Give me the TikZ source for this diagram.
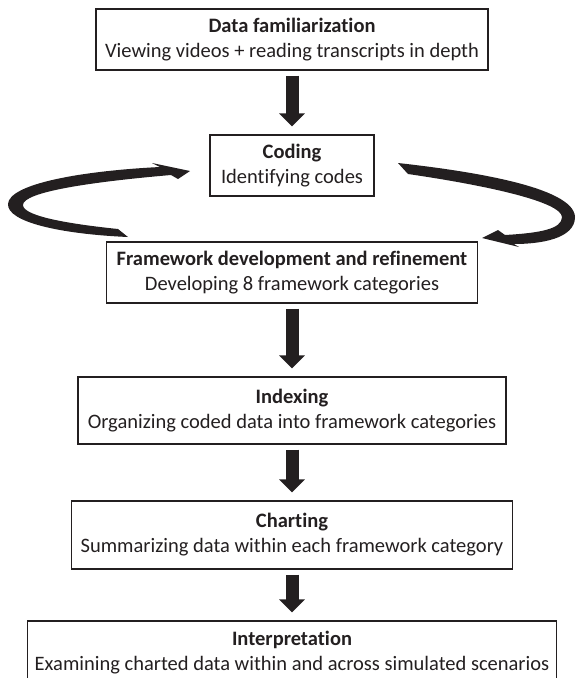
\documentclass[tikz,border=0pt]{standalone}
\usepackage{fontspec}
\setmainfont{Carlito}[RawFeature={-liga;-dlig;-clig;-calt}]
\usetikzlibrary{arrows.meta}
\definecolor{ink}{RGB}{35,31,32}
\tikzset{every path/.style={line width=1.3pt}}
\tikzset{stage/.style={draw=ink, align=center, inner sep=0pt, text=ink, font=\fontsize{20.5}{25}\selectfont}}
\tikzset{down/.style={draw=ink, line width=13pt, -{Triangle[width=25pt,length=13pt]}, shorten <=5pt, shorten >=8pt}}

\begin{document}
\begin{tikzpicture}[x=1pt, y=-1pt]
\useasboundingbox (0,0) rectangle (576,678);
% stages, top to bottom
\node[stage, minimum width=392pt, minimum height=61pt] (data) at (292,39.5) {\textbf{Data familiarization}\\Viewing videos + reading transcripts in depth};
\node[stage, minimum width=164pt, minimum height=61pt] (coding) at (292,165.5) {\textbf{Coding}\\Identifying codes};
\node[stage, minimum width=371pt, minimum height=61pt] (frame) at (292,272.5) {\textbf{Framework development and refinement}\\Developing 8 framework categories};
\node[stage, minimum width=428pt, minimum height=67pt] (index) at (292,410.5) {\textbf{Indexing}\\Organizing coded data into framework categories};
\node[stage, minimum width=441pt, minimum height=68pt] (chart) at (292,535) {\textbf{Charting}\\Summarizing data within each framework category};
\node[stage, minimum width=529pt, minimum height=64pt] (interp) at (292,653) {\textbf{Interpretation}\\Examining charted data within and across simulated scenarios};

% fat arrows between stages
\draw[down] (data.south) -- (coding.north);
\draw[down] (frame.south) -- (index.north);
\draw[down] (index.south) -- (chart.north);
\draw[down] (chart.south) -- (interp.north);

% loop on the left: framework back up to coding
\coordinate (ltail) at (128,237);
\coordinate (ltip) at (190,171);
\fill[ink] (ltail) .. controls (60,234) and (7,222) .. (8,204)
  .. controls (9,184) and (80,171) .. (160,167) -- (152,163) -- (ltip) -- (178,179) -- (171,175)
  .. controls (90,182) and (23,192) .. (23,205) .. controls (23,215) and (60,223) .. (118,229) -- cycle;

% loop on the right: coding down to framework
\coordinate (rtail) at (398,163);
\coordinate (rtip) at (482,238);
\fill[ink] (rtail) .. controls (470,171) and (574,187) .. (575,217)
  .. controls (575,239) and (540,244) .. (514,244) -- (519,247) -- (rtip) -- (498,230) -- (505,235)
  .. controls (540,233) and (562,229) .. (562,217) .. controls (561,202) and (490,186) .. (408,174) -- cycle;
\end{tikzpicture}
\end{document}
